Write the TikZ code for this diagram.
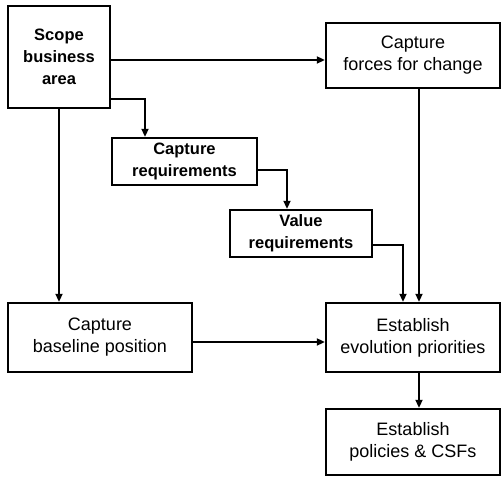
\documentclass[tikz,border=0pt]{standalone}
\usepackage{fontspec}
\setmainfont{Liberation Sans}
\usetikzlibrary{arrows.meta}
\begin{document}
\begin{tikzpicture}[x=1pt,y=-1pt,
  box/.style={draw,line width=2.4pt,rectangle,align=center,inner sep=0pt,
    font=\fontsize{18}{22}\selectfont},
  boldbox/.style={box,font=\fontsize{16.5}{22}\selectfont\bfseries},
  arr/.style={line width=2pt,-{Triangle[length=8pt,width=7pt]}}]
\useasboundingbox (0,0) rectangle (504,478);
\node[boldbox,minimum width=102pt,minimum height=102pt] (scope) at (59,57) {Scope\\business\\area};
\node[box,minimum width=174pt,minimum height=65pt] (forces) at (413,55.5) {Capture\\forces for change};
\node[boldbox,minimum width=145pt,minimum height=47pt] (capreq) at (184.5,161.5) {Capture\\requirements};
\node[boldbox,minimum width=142pt,minimum height=47pt] (valreq) at (301,233.5) {Value\\requirements};
\node[box,minimum width=184pt,minimum height=69pt] (base) at (100,337.5) {Capture\\baseline position};
\node[box,minimum width=174pt,minimum height=69pt] (estab) at (413,337.5) {Establish\\evolution priorities};
\node[box,minimum width=174pt,minimum height=66pt] (pol) at (413,442) {Establish\\policies \& CSFs};
\draw[arr] (scope.east |- 0,60) -- (forces.west |- 0,60);
\draw[arr] (scope.east |- 0,99) -| (145,0 |- capreq.north);
\draw[arr] (capreq.east |- 0,170) -| (287,0 |- valreq.north);
\draw[arr] (valreq.east |- 0,245) -| (403,0 |- estab.north);
\draw[arr] (419,0 |- forces.south) -- (419,0 |- estab.north);
\draw[arr] (scope.south) -- (scope.south |- base.north);
\draw[arr] (base.east |- 0,342) -- (estab.west |- 0,342);
\draw[arr] (419,0 |- estab.south) -- (419,0 |- pol.north);
\end{tikzpicture}
\end{document}
